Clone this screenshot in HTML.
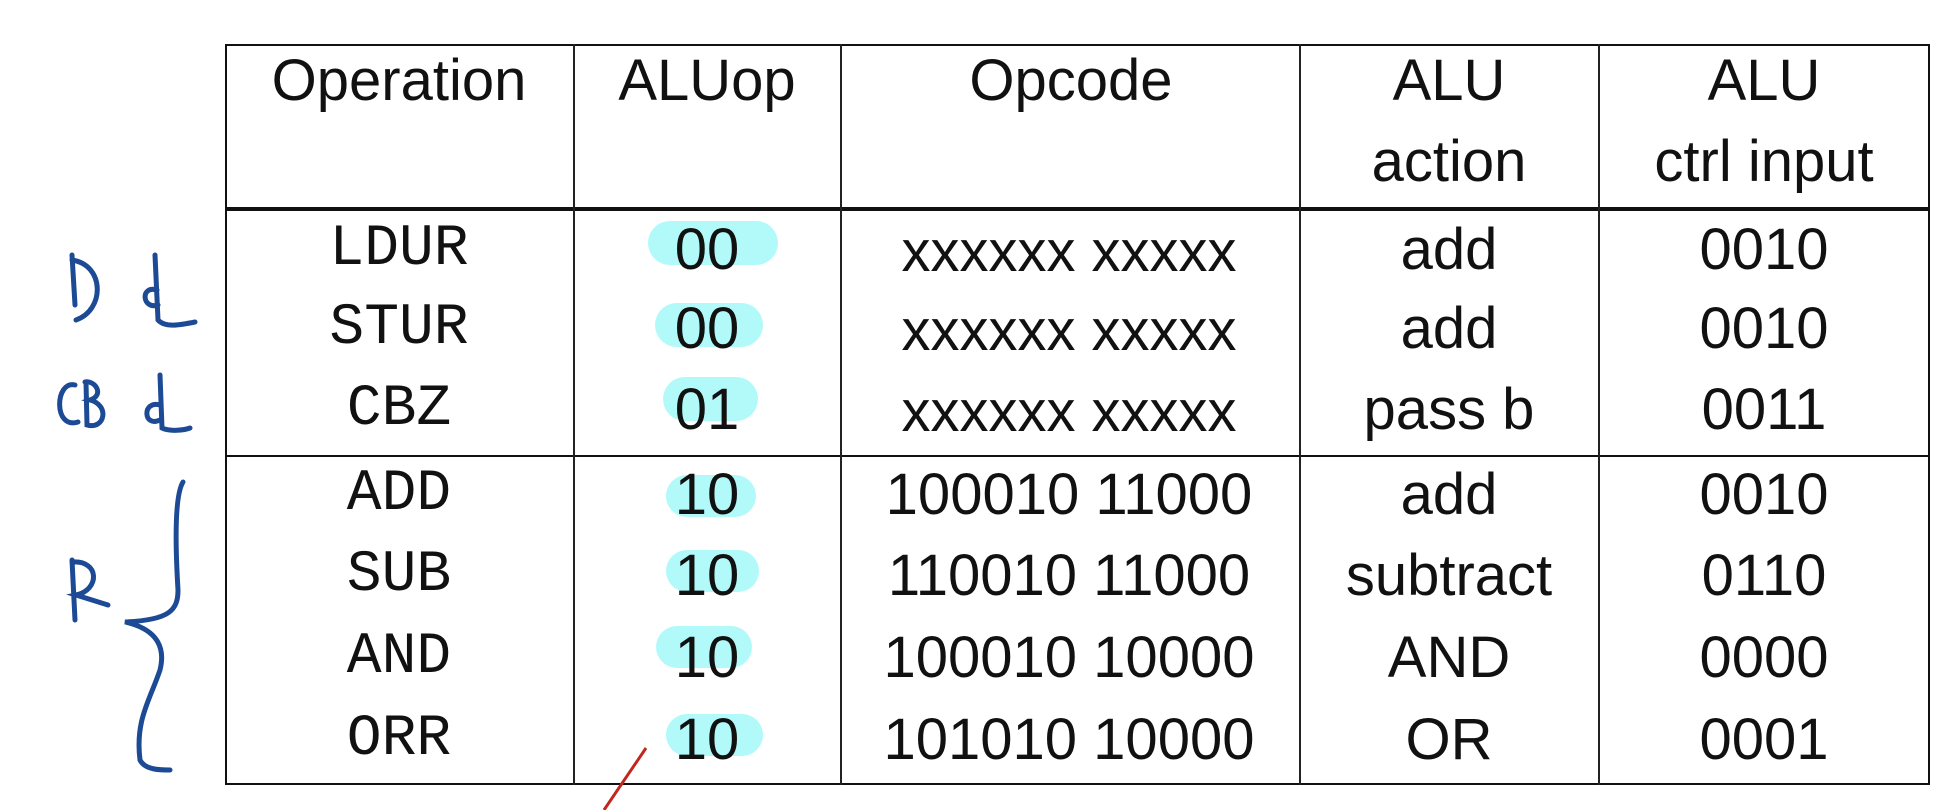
<!DOCTYPE html>
<html><head><meta charset="utf-8"><style>
html,body{margin:0;padding:0;background:#fff;}
body{width:1960px;height:810px;position:relative;overflow:hidden;font-family:"Liberation Sans",sans-serif;color:#111;}
.t{position:absolute;font-size:58px;line-height:1;transform:translate(-50%,-50%);white-space:nowrap;}
.m{font-family:"Liberation Mono",monospace;font-size:58px;}
.hl{position:absolute;background:#b2fafa;border-radius:26px;}
.v{position:absolute;top:44px;height:741px;width:2px;background:#222;}
.h{position:absolute;left:225px;width:1705px;background:#111;}
</style></head><body>
<div class="hl" style="left:648px;top:221px;width:130px;height:44px;"></div>
<div class="hl" style="left:655px;top:303px;width:108px;height:44px;"></div>
<div class="hl" style="left:663px;top:377px;width:95px;height:44px;"></div>
<div class="hl" style="left:666px;top:475px;width:90px;height:42px;"></div>
<div class="hl" style="left:666px;top:550px;width:93px;height:42px;"></div>
<div class="hl" style="left:656px;top:626px;width:96px;height:42px;"></div>
<div class="hl" style="left:666px;top:714px;width:97px;height:42px;"></div>
<div style="position:absolute;left:225px;top:44px;width:1701px;height:737px;border:2px solid #111;"></div>
<div class="h" style="top:207px;height:4px;"></div>
<div class="h" style="top:455px;height:2px;"></div>
<div class="v" style="left:573px;"></div>
<div class="v" style="left:840px;"></div>
<div class="v" style="left:1299px;"></div>
<div class="v" style="left:1598px;"></div>

<div class="t" style="left:399px;top:81px">Operation</div>
<div class="t" style="left:707px;top:81px">ALUop</div>
<div class="t" style="left:1071px;top:81px">Opcode</div>
<div class="t" style="left:1449px;top:81px">ALU</div>
<div class="t" style="left:1449px;top:162px">action</div>
<div class="t" style="left:1764px;top:81px">ALU</div>
<div class="t" style="left:1764px;top:162px">ctrl input</div>

<div class="t m" style="left:399px;top:250px">LDUR</div>
<div class="t m" style="left:399px;top:329px">STUR</div>
<div class="t m" style="left:399px;top:410px">CBZ</div>
<div class="t m" style="left:399px;top:495px">ADD</div>
<div class="t m" style="left:399px;top:576px">SUB</div>
<div class="t m" style="left:399px;top:658px">AND</div>
<div class="t m" style="left:399px;top:740px">ORR</div>

<div class="t" style="left:707px;top:250px">00</div>
<div class="t" style="left:707px;top:329px">00</div>
<div class="t" style="left:707px;top:410px">01</div>
<div class="t" style="left:707px;top:495px">10</div>
<div class="t" style="left:707px;top:576px">10</div>
<div class="t" style="left:707px;top:658px">10</div>
<div class="t" style="left:707px;top:740px">10</div>

<div class="t" style="left:1069px;top:252px">xxxxxx xxxxx</div>
<div class="t" style="left:1069px;top:331px">xxxxxx xxxxx</div>
<div class="t" style="left:1069px;top:412px">xxxxxx xxxxx</div>
<div class="t" style="left:1069px;top:495px">100010 11000</div>
<div class="t" style="left:1069px;top:576px">110010 11000</div>
<div class="t" style="left:1069px;top:658px">100010 10000</div>
<div class="t" style="left:1069px;top:740px">101010 10000</div>

<div class="t" style="left:1449px;top:250px">add</div>
<div class="t" style="left:1449px;top:329px">add</div>
<div class="t" style="left:1449px;top:410px">pass b</div>
<div class="t" style="left:1449px;top:495px">add</div>
<div class="t" style="left:1449px;top:576px">subtract</div>
<div class="t" style="left:1449px;top:658px">AND</div>
<div class="t" style="left:1449px;top:740px">OR</div>

<div class="t" style="left:1764px;top:250px">0010</div>
<div class="t" style="left:1764px;top:329px">0010</div>
<div class="t" style="left:1764px;top:410px">0011</div>
<div class="t" style="left:1764px;top:495px">0010</div>
<div class="t" style="left:1764px;top:576px">0110</div>
<div class="t" style="left:1764px;top:658px">0000</div>
<div class="t" style="left:1764px;top:740px">0001</div>

<svg width="1960" height="810" style="position:absolute;left:0;top:0">
<g fill="none" stroke="#1c4a94" stroke-width="5" stroke-linecap="round">
<path d="M72 255 L75 305 M72 260 C105 265 105 310 76 320"/>
<path d="M155 255 L158 320 C165 328 180 325 195 322 M157 290 C140 285 142 310 158 305"/>
<path d="M75 385 C55 380 53 430 78 422 M85 382 C95 380 105 395 90 400 C110 405 105 430 87 425 L86 382"/>
<path d="M160 375 L162 428 C170 432 185 430 190 428 M160 405 C142 400 143 428 160 420"/>
<path d="M183 482 C175 495 175 540 178 590 C178 610 170 620 125 622 C160 630 165 650 160 670 C150 700 135 720 140 760 C145 770 160 770 170 770"/>
<path d="M72 560 L75 620 M72 562 C100 560 100 590 76 595 L108 605"/>
</g>
<path d="M646 748 L604 810" stroke="#c0281e" stroke-width="3" fill="none"/>
</svg>
</body></html>
